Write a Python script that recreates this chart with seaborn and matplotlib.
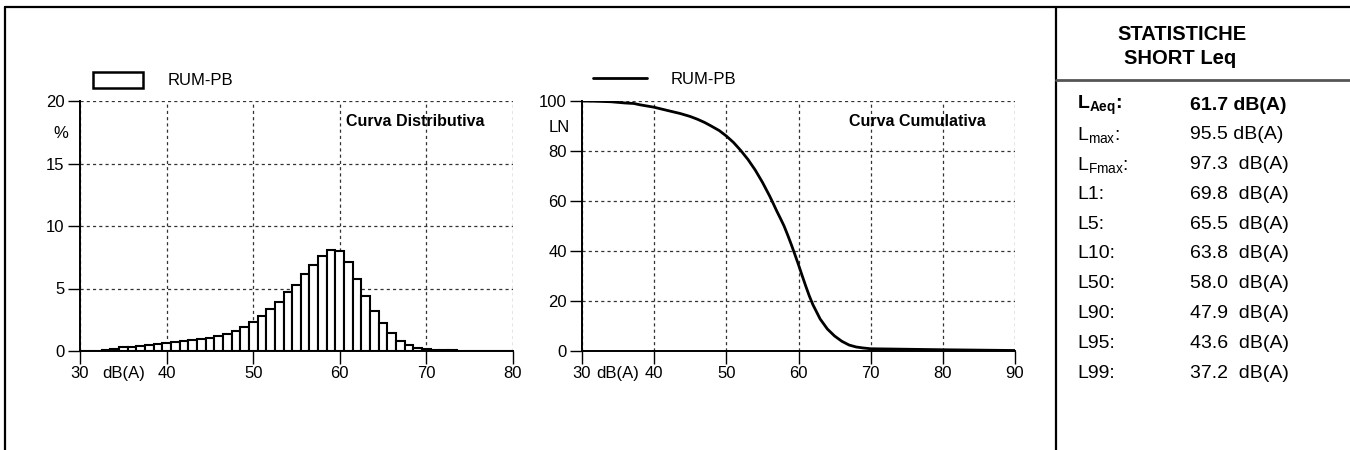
import matplotlib
matplotlib.use("Agg")
from matplotlib import pyplot as plt
from matplotlib.lines import Line2D
from matplotlib.patches import Patch
import numpy as np
import pandas as pd
import seaborn as sns

# distribution: % of time per 1 dB class (class centre)
levels_db = list(range(30, 81))
dist_pct = [0.00, 0.02, 0.04, 0.08, 0.19, 0.29, 0.35, 0.43, 0.50, 0.59,
            0.67, 0.72, 0.77, 0.85, 0.93, 1.04, 1.23, 1.39, 1.63, 1.95,
            2.35, 2.80, 3.33, 3.95, 4.70, 5.28, 6.14, 6.89, 7.57, 8.10,
            8.02, 7.10, 5.75, 4.44, 3.21, 2.21, 1.41, 0.84, 0.48, 0.28,
            0.17, 0.10, 0.07, 0.05, 0.04, 0.03, 0.02, 0.02, 0.01, 0.01,
            0.01]

# cumulative curve LN
cum_db = [30, 32, 34, 36, 37.2, 38, 40, 42, 43.6, 45, 46, 47, 47.9, 49, 50,
          51, 52, 53, 54, 55, 56, 56.5, 57, 57.5, 58, 58.5, 59, 59.5, 60,
          60.5, 61, 61.5, 62, 63, 64, 65, 66, 67, 68, 69, 70, 75, 80, 85, 90]
cum_ln = [100, 99.9, 99.7, 99.2, 99.0, 98.5, 97.5, 96.1, 95.0, 93.8, 92.7,
          91.4, 90.0, 88.2, 86.0, 83.4, 80.2, 76.6, 72.4, 67.5, 62.0, 59.0,
          55.9, 53.0, 50.0, 46.4, 42.6, 38.6, 34.5, 30.2, 26.0, 22.0, 18.5,
          12.8, 8.8, 6.0, 3.9, 2.4, 1.6, 1.2, 0.9, 0.7, 0.5, 0.35, 0.2]

series_name = "RUM-PB"
stat_names = ["LAeq", "Lmax", "LFmax", "L1", "L5", "L10", "L50", "L90", "L95", "L99"]
stat_values = [61.7, 95.5, 97.3, 69.8, 65.5, 63.8, 58.0, 47.9, 43.6, 37.2]

sns.set_theme(style="ticks")
plt.rcParams["font.family"] = ["Liberation Sans", "DejaVu Sans"]
plt.rcParams["mathtext.fontset"] = "custom"
plt.rcParams["mathtext.rm"] = "Liberation Sans"
plt.rcParams["mathtext.bf"] = "Liberation Sans:bold"
plt.rcParams["mathtext.it"] = "Liberation Sans:italic"
plt.rcParams["text.color"] = "black"
plt.rcParams["xtick.color"] = "black"
plt.rcParams["ytick.color"] = "black"
plt.rcParams["xtick.labelcolor"] = "black"
plt.rcParams["ytick.labelcolor"] = "black"

W, H = 1350, 450
fig = plt.figure(figsize=(13.5, 4.5), dpi=100)
fig.patch.set_facecolor("white")


def px_box(x0, y0, x1, y1):
    return [x0 / W, 1 - y1 / H, (x1 - x0) / W, (y1 - y0) / H]


def fig_line(x0, y0, x1, y1, **kw):
    fig.add_artist(Line2D([x0 / W, x1 / W], [1 - y0 / H, 1 - y1 / H],
                          transform=fig.transFigure, **kw))


def style_axis(ax):
    ax.grid(True, color="#333333", linestyle=(0, (2.5, 2.5)), linewidth=0.9)
    ax.set_axisbelow(True)
    for s in ["top", "right"]:
        ax.spines[s].set_visible(False)
    for s in ["left", "bottom"]:
        ax.spines[s].set_linewidth(1.4)
        ax.spines[s].set_color("black")
    ax.tick_params(direction="out", length=9, width=1, pad=2,
                   labelsize=12, colors="black")
    ax.set_xlabel("")
    ax.set_ylabel("")
    ax.set_facecolor("white")


# --- distribution ---
ax1 = fig.add_axes(px_box(80, 101, 513, 351))
df_dist = pd.DataFrame({"level": levels_db, "pct": dist_pct})
sns.histplot(data=df_dist, x="level", weights="pct", discrete=True, ax=ax1,
             color="white", edgecolor="black", linewidth=1.5, alpha=1)
ax1.set_xlim(30, 80)
ax1.set_ylim(0, 20)
ax1.set_xticks([30, 40, 50, 60, 70, 80])
ax1.set_yticks([0, 5, 10, 15, 20])
style_axis(ax1)
ax1.text(35, -0.06, "dB(A)", transform=ax1.get_xaxis_transform(),
         ha="center", va="top", fontsize=12)
ax1.text(-19 / 433, 17.4 / 20, "%", transform=ax1.transAxes,
         ha="center", va="center", fontsize=12)
ax1.text(0.614, 0.92, "Curva Distributiva", transform=ax1.transAxes,
         ha="left", va="center", fontsize=11.5, fontweight="bold")
ax1.legend(handles=[Patch(facecolor="white", edgecolor="black", linewidth=1.8)],
           labels=[series_name], loc="center left",
           bbox_to_anchor=(13 / 433, 1 + 21 / 250), frameon=False,
           fontsize=12, handlelength=3.0, handleheight=1.08,
           handletextpad=1.5, borderpad=0, borderaxespad=0)

# --- cumulative ---
ax2 = fig.add_axes(px_box(582, 101, 1015, 351))
df_cum = pd.DataFrame({"level": cum_db, "ln": cum_ln})
sns.lineplot(data=df_cum, x="level", y="ln", ax=ax2, color="black",
             linewidth=2, label=series_name)
ax2.set_xlim(30, 90)
ax2.set_ylim(0, 100)
ax2.set_xticks([30, 40, 50, 60, 70, 80, 90])
ax2.set_yticks([0, 20, 40, 60, 80, 100])
style_axis(ax2)
ax2.text(35, -0.06, "dB(A)", transform=ax2.get_xaxis_transform(),
         ha="center", va="top", fontsize=12)
ax2.text(-23 / 433, 89.6 / 100, "LN", transform=ax2.transAxes,
         ha="center", va="center", fontsize=12)
ax2.text(0.617, 0.916, "Curva Cumulativa", transform=ax2.transAxes,
         ha="left", va="center", fontsize=11.5, fontweight="bold")
ax2.legend(loc="center left", bbox_to_anchor=(11 / 433, 1 + 22 / 250),
           frameon=False, fontsize=12, handlelength=3.25,
           handletextpad=1.4, borderpad=0, borderaxespad=0)

# --- frame ---
fig_line(5, 7, W, 7, color="black", linewidth=1.6)
fig_line(5, 7, 5, H, color="black", linewidth=1.6)
fig_line(1056, 7, 1056, H, color="black", linewidth=1.6)
fig_line(1056, 80, W, 80, color="#555555", linewidth=2)

# --- statistics table ---
fig.text(1182 / W, 1 - 35 / H, "STATISTICHE", ha="center", va="center",
         fontsize=14.5, fontweight="bold")
fig.text(1180 / W, 1 - 58 / H, "SHORT Leq", ha="center", va="center",
         fontsize=14.5, fontweight="bold")

for i, (name, val) in enumerate(zip(stat_names, stat_values)):
    y = 1 - (105 + i * 29.8) / H
    if i == 0:
        label = r"$\mathbf{L}_{\mathbf{Aeq}}$:"
        weight = "bold"
        txt = f"{val:.1f} dB(A)"
    elif i < 3:
        label = r"$\mathrm{L}_{\mathrm{" + name[1:] + "}}$:"
        weight = "normal"
        txt = f"{val:.1f}" + (" dB(A)" if i == 1 else "  dB(A)")
    else:
        label = name + ":"
        weight = "normal"
        txt = f"{val:.1f}  dB(A)"
    fig.text(1077 / W, y, label, ha="left", va="center", fontsize=14,
             fontweight=weight)
    fig.text(1190 / W, y, txt, ha="left", va="center", fontsize=14,
             fontweight=weight)

fig.savefig("out.png", dpi=100, facecolor="white")
